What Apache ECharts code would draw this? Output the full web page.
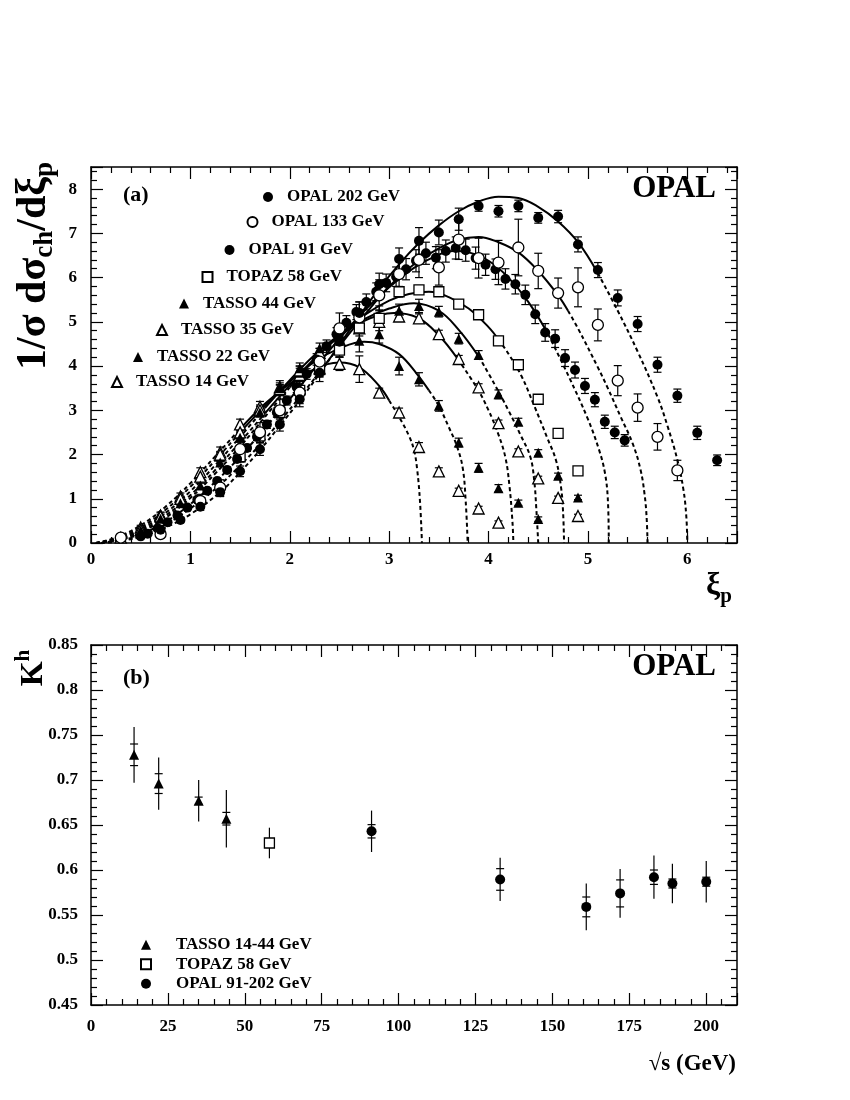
<!DOCTYPE html>
<html><head><meta charset="utf-8">
<script src="https://cdn.jsdelivr.net/npm/echarts@6.0.0/dist/echarts.min.js"></script>
<style>html,body{margin:0;padding:0;background:#fff}#c{width:850px;height:1100px}</style>
</head><body><div id="c"></div>
<script>
// ================= Panel (a): 1/sigma dsigma/dxi_p =================
const xiOPAL202 = [0.5,0.7,0.9,1.1,1.3,1.5,1.7,1.9,2.1,2.3,2.5,2.7,2.9,3.1,3.3,3.5,3.7,3.9,4.1,4.3,4.5,4.7,4.9,5.1,5.3,5.5,5.7,5.9,6.1,6.3];
const yOPAL202  = [0.15,0.3,0.52,0.82,1.15,1.62,2.12,2.68,3.25,3.85,4.55,5.2,5.85,6.42,6.83,7.02,7.32,7.62,7.50,7.62,7.35,7.38,6.75,6.17,5.54,4.95,4.03,3.33,2.49,1.87];
const eOPAL202  = [0.04,0.05,0.06,0.08,0.1,0.12,0.14,0.15,0.17,0.2,0.22,0.25,0.25,0.25,0.3,0.28,0.25,0.12,0.13,0.13,0.12,0.14,0.17,0.17,0.18,0.17,0.17,0.15,0.15,0.12];

const xiOPAL133 = [0.3,0.7,1.1,1.3,1.5,1.7,1.9,2.1,2.3,2.5,2.7,2.9,3.1,3.3,3.5,3.7,3.9,4.1,4.3,4.5,4.7,4.9,5.1,5.3,5.5,5.7,5.9];
const yOPAL133  = [0.12,0.2,0.95,1.25,2.12,2.5,3.0,3.4,4.1,4.85,5.1,5.6,6.08,6.4,6.23,6.86,6.44,6.34,6.68,6.15,5.65,5.78,4.93,3.67,3.06,2.40,1.64];
const eOPAL133  = [0.05,0.08,0.15,0.18,0.2,0.22,0.25,0.25,0.3,0.35,0.35,0.35,0.35,0.4,0.4,0.45,0.45,0.5,0.64,0.4,0.34,0.44,0.36,0.34,0.31,0.3,0.23];

const xiOPAL91 = [0.57,0.67,0.77,0.87,0.97,1.07,1.17,1.27,1.37,1.47,1.57,1.67,1.77,1.87,1.97,2.07,2.17,2.27,2.37,2.47,2.57,2.67,2.77,2.87,2.97,3.07,3.17,3.27,3.37,3.47,3.57,3.67,3.77,3.87,3.97,4.07,4.17,4.27,4.37,4.47,4.57,4.67,4.77,4.87,4.97,5.07,5.17,5.27,5.37];
const yOPAL91  = [0.21,0.33,0.47,0.62,0.8,0.98,1.18,1.4,1.65,1.9,2.15,2.4,2.68,2.95,3.22,3.52,3.82,4.15,4.45,4.72,4.98,5.22,5.45,5.68,5.88,6.02,6.19,6.38,6.55,6.45,6.6,6.67,6.62,6.44,6.29,6.19,5.97,5.85,5.61,5.17,4.76,4.62,4.18,3.91,3.55,3.24,2.74,2.50,2.32];
const eOPAL91  = [0.03,0.03,0.04,0.04,0.05,0.05,0.06,0.06,0.07,0.07,0.08,0.08,0.09,0.1,0.1,0.12,0.12,0.13,0.14,0.15,0.16,0.17,0.18,0.2,0.2,0.22,0.24,0.25,0.25,0.25,0.25,0.25,0.25,0.25,0.24,0.23,0.23,0.22,0.22,0.21,0.2,0.2,0.19,0.18,0.17,0.16,0.15,0.14,0.13];

const xiTOPAZ58 = [1.5,1.7,1.9,2.1,2.3,2.5,2.7,2.9,3.1,3.3,3.5,3.7,3.9,4.1,4.3,4.5,4.7,4.9];
const yTOPAZ58  = [1.95,2.42,2.95,3.45,3.92,4.36,4.86,5.08,5.68,5.72,5.68,5.40,5.16,4.57,4.03,3.25,2.48,1.63];
const eTOPAZ58  = [0.12,0.15,0.15,0.15,0.15,0.15,0.18,0.28,0.12,0.1,0.1,0.1,0.1,0.1,0.08,0.08,0.06,0.05];

const xiTASSO44 = [0.5,0.7,0.9,1.1,1.3,1.5,1.7,1.9,2.1,2.3,2.5,2.7,2.9,3.1,3.3,3.5,3.7,3.9,4.1,4.3,4.5,4.7,4.9];
const yTASSO44  = [0.28,0.55,0.9,1.3,1.82,2.38,2.95,3.5,3.95,4.4,4.75,4.95,5.12,5.25,5.36,5.23,4.62,4.25,3.36,2.74,2.04,1.52,1.03];
const eTASSO44  = [0.03,0.04,0.05,0.06,0.08,0.1,0.1,0.12,0.12,0.12,0.14,0.15,0.15,0.15,0.15,0.12,0.12,0.1,0.1,0.08,0.07,0.06,0.05];

const xiTASSO35 = [0.5,0.7,0.9,1.1,1.3,1.5,1.7,1.9,2.1,2.3,2.5,2.7,2.9,3.1,3.3,3.5,3.7,3.9,4.1,4.3,4.5,4.7,4.9];
const yTASSO35  = [0.3,0.6,1.0,1.5,2.0,2.5,3.0,3.48,3.9,4.3,4.6,4.85,5.0,5.12,5.08,4.72,4.16,3.52,2.71,2.07,1.46,1.02,0.61];
const eTASSO35  = [0.03,0.04,0.05,0.06,0.07,0.08,0.09,0.1,0.1,0.1,0.1,0.1,0.1,0.1,0.1,0.09,0.08,0.08,0.07,0.06,0.05,0.04,0.04];

const xiTASSO22 = [0.5,0.7,0.9,1.1,1.3,1.5,1.7,1.9,2.1,2.3,2.5,2.7,2.9,3.1,3.3,3.5,3.7,3.9,4.1,4.3,4.5];
const yTASSO22  = [0.32,0.65,1.0,1.45,1.95,2.45,3.0,3.45,3.85,4.15,4.4,4.57,4.72,4.0,3.70,3.10,2.27,1.70,1.24,0.91,0.54];
const eTASSO22  = [0.04,0.05,0.06,0.08,0.1,0.1,0.12,0.12,0.15,0.15,0.2,0.25,0.2,0.2,0.15,0.12,0.1,0.1,0.08,0.06,0.05];

const xiTASSO14 = [0.3,0.5,0.7,0.9,1.1,1.3,1.5,1.7,1.9,2.1,2.3,2.5,2.7,2.9,3.1,3.3,3.5,3.7,3.9,4.1];
const yTASSO14  = [0.12,0.35,0.62,1.05,1.6,2.05,2.68,3.08,3.52,3.8,3.95,4.05,3.93,3.40,2.95,2.17,1.62,1.18,0.78,0.46];
const eTASSO14  = [0.03,0.05,0.06,0.08,0.1,0.12,0.12,0.12,0.15,0.15,0.2,0.15,0.3,0.1,0.1,0.1,0.08,0.06,0.05,0.04];

// theory curves, with the xi range drawn solid
const curveXi14 = [0.05,0.25,0.5,0.75,1.0,1.25,1.5,1.75,2.0,2.25,2.5,2.7,2.9,3.0,3.1,3.2,3.25,3.28,3.31,3.33];
const curveY14  = [0,0.12,0.4,0.82,1.35,1.96,2.58,3.15,3.6,3.93,4.08,3.97,3.55,3.22,2.85,2.42,2.1,1.7,0.95,0];
const fit14 = [1.5, 3.0];
const curveXi22 = [0.05,0.25,0.5,0.75,1.0,1.25,1.5,1.75,2.0,2.25,2.5,2.75,2.9,3.1,3.28,3.4,3.5,3.6,3.68,3.74,3.77,3.79];
const curveY22  = [0,0.1,0.35,0.75,1.27,1.87,2.5,3.1,3.65,4.1,4.4,4.55,4.5,4.27,3.82,3.45,3.1,2.62,2.2,1.7,0.95,0];
const fit22 = [1.5, 3.4];
const curveXi35 = [0.05,0.25,0.5,0.75,1.0,1.25,1.5,1.75,2.0,2.25,2.5,2.75,2.9,3.05,3.28,3.49,3.69,3.89,4.0,4.1,4.17,4.21,4.24,4.25];
const curveY35  = [0,0.09,0.31,0.68,1.17,1.76,2.4,3.05,3.68,4.25,4.7,5.02,5.15,5.2,5.1,4.72,4.16,3.48,3.0,2.45,1.93,1.3,0.5,0];
const fit35 = [1.75, 3.69];
const curveXi44 = [0.05,0.25,0.5,0.75,1.0,1.25,1.5,1.75,2.0,2.25,2.5,2.75,3.0,3.25,3.5,3.7,3.9,4.06,4.2,4.32,4.42,4.46,4.48,4.5];
const curveY44  = [0,0.08,0.28,0.62,1.08,1.65,2.28,2.93,3.57,4.17,4.67,5.06,5.3,5.42,5.25,4.82,4.22,3.59,3.0,2.45,1.95,1.4,0.8,0];
const fit44 = [1.75, 3.9];
const curveXi58 = [0.05,0.25,0.5,0.75,1.0,1.25,1.5,1.75,2.0,2.25,2.5,2.75,3.0,3.2,3.4,3.6,3.8,4.0,4.1,4.2,4.33,4.46,4.59,4.68,4.73,4.75,4.76];
const curveY58  = [0,0.07,0.25,0.57,1.02,1.57,2.18,2.85,3.52,4.15,4.7,5.15,5.48,5.63,5.68,5.56,5.3,4.88,4.6,4.28,3.78,3.1,2.38,1.86,1.25,0.7,0];
const fit58 = [2.0, 4.1];
const curveXi91 = [0.05,0.25,0.5,0.75,1.0,1.25,1.5,1.75,2.0,2.25,2.5,2.75,3.0,3.25,3.5,3.65,3.8,4.0,4.2,4.4,4.6,4.81,5.0,5.11,5.17,5.2,5.21];
const curveY91  = [0,0.06,0.2,0.48,0.88,1.38,1.95,2.6,3.25,3.95,4.62,5.25,5.78,6.22,6.52,6.6,6.57,6.38,6.0,5.45,4.72,3.75,2.8,2.12,1.6,1.0,0];
const fit91 = [2.0, 4.6];
const curveXi133 = [0.1,0.25,0.5,0.75,1.0,1.25,1.5,1.75,2.0,2.25,2.5,2.75,3.0,3.25,3.5,3.7,3.9,4.1,4.3,4.5,4.7,4.8,4.9,5.1,5.2,5.33,5.45,5.53,5.57,5.59,5.6];
const curveY133  = [0,0.05,0.17,0.42,0.78,1.22,1.75,2.35,3.02,3.72,4.45,5.15,5.8,6.3,6.66,6.86,6.92,6.8,6.57,6.15,5.6,5.25,4.85,3.97,3.5,2.85,2.25,1.65,1.1,0.6,0];
const fit133 = [2.25, 4.8];
const curveXi202 = [0.1,0.25,0.5,0.75,1.0,1.3,1.5,1.7,1.9,2.1,2.3,2.5,2.7,2.9,3.1,3.3,3.5,3.7,3.9,4.1,4.3,4.5,4.7,4.9,5.1,5.3,5.5,5.7,5.8,5.9,5.96,5.99,6.0];
const curveY202  = [0,0.03,0.14,0.35,0.65,1.15,1.6,2.1,2.65,3.22,3.83,4.48,5.13,5.75,6.3,6.78,7.18,7.5,7.72,7.83,7.8,7.6,7.27,6.8,6.1,5.25,4.33,3.3,2.65,1.88,1.22,0.6,0];
const fit202 = [2.5, 5.1];

// ================= Panel (b): K^h vs sqrt(s) =================
const sqrtsTASSO = [14, 22, 35, 44];
const kTASSO     = [0.728, 0.696, 0.677, 0.657];
const statTASSO  = [0.012, 0.011, 0.004, 0.007];
const totTASSO   = [0.031, 0.029, 0.023, 0.032];
const sqrtsTOPAZ = [58];
const kTOPAZ     = [0.630];
const statTOPAZ  = [0.004];
const totTOPAZ   = [0.017];
const sqrtsOPAL  = [91.2, 133, 161, 172, 183, 189, 200];
const kOPAL      = [0.643, 0.5895, 0.559, 0.574, 0.592, 0.585, 0.587];
const statOPAL   = [0.0074, 0.012, 0.011, 0.015, 0.008, 0.005, 0.005];
const totOPAL    = [0.023, 0.024, 0.026, 0.027, 0.024, 0.022, 0.023];

// ================= build =================
const FONT = "'Liberation Serif','Times New Roman',serif";
const BLACK = '#000';
const zip2 = (xs, ys) => xs.map((x, i) => [x, ys[i]]);
const zip3 = (xs, ys, es) => xs.map((x, i) => [x, ys[i], es[i]]);
const zip4 = (xs, ys, a, b) => xs.map((x, i) => [x, ys[i], a[i], b[i]]);

const symStyle = {
  filledCircle: {symbol: 'circle', size: 10, itemStyle: {color: BLACK, opacity: 1}},
  openCircle:   {symbol: 'circle', size: 11, itemStyle: {color: '#fff', borderColor: BLACK, borderWidth: 1.3, opacity: 1}},
  openSquare:   {symbol: 'rect', size: 10, itemStyle: {color: '#fff', borderColor: BLACK, borderWidth: 1.3, opacity: 1}},
  filledTri:    {symbol: 'triangle', size: 10, itemStyle: {color: BLACK, opacity: 1}},
  openTri:      {symbol: 'triangle', size: 11, itemStyle: {color: '#fff', borderColor: BLACK, borderWidth: 1.3, opacity: 1}}
};

const setsA = [
  {name: 'OPAL 202 GeV', xs: xiOPAL202, ys: yOPAL202, es: eOPAL202, st: 'filledCircle'},
  {name: 'OPAL 133 GeV', xs: xiOPAL133, ys: yOPAL133, es: eOPAL133, st: 'openCircle'},
  {name: 'OPAL 91 GeV',  xs: xiOPAL91,  ys: yOPAL91,  es: eOPAL91,  st: 'filledCircle'},
  {name: 'TOPAZ 58 GeV', xs: xiTOPAZ58, ys: yTOPAZ58, es: eTOPAZ58, st: 'openSquare'},
  {name: 'TASSO 44 GeV', xs: xiTASSO44, ys: yTASSO44, es: eTASSO44, st: 'filledTri'},
  {name: 'TASSO 35 GeV', xs: xiTASSO35, ys: yTASSO35, es: eTASSO35, st: 'openTri'},
  {name: 'TASSO 22 GeV', xs: xiTASSO22, ys: yTASSO22, es: eTASSO22, st: 'filledTri'},
  {name: 'TASSO 14 GeV', xs: xiTASSO14, ys: yTASSO14, es: eTASSO14, st: 'openTri'}
];
// legend symbol centres (layout, px)
const legendPosA = [[268, 197], [251.5, 222], [229.5, 250], [206.5, 277], [184, 303.5], [161, 330], [138, 357], [116, 382]];

const curves = [
  [curveXi14, curveY14, fit14], [curveXi22, curveY22, fit22], [curveXi35, curveY35, fit35],
  [curveXi44, curveY44, fit44], [curveXi58, curveY58, fit58], [curveXi91, curveY91, fit91],
  [curveXi133, curveY133, fit133], [curveXi202, curveY202, fit202]
];

const series = [];
const lineBase = {type: 'line', xAxisIndex: 0, yAxisIndex: 0, symbol: 'none', showSymbol: false,
  smooth: 0.4, silent: true, z: 1, clip: true};
curves.forEach(([xs, ys, fit]) => {
  const pts = zip2(xs, ys);
  const low = pts.filter(p => p[0] <= fit[0]);
  const mid = pts.filter(p => p[0] >= fit[0] && p[0] <= fit[1]);
  const high = pts.filter(p => p[0] >= fit[1]);
  series.push(Object.assign({}, lineBase, {data: low, lineStyle: {color: BLACK, width: 2, type: [4, 3]}}));
  series.push(Object.assign({}, lineBase, {data: mid, lineStyle: {color: BLACK, width: 2, type: 'solid'}}));
  series.push(Object.assign({}, lineBase, {data: high, lineStyle: {color: BLACK, width: 2, type: [4, 3]}}));
});

function errA(data) {
  return {type: 'custom', xAxisIndex: 0, yAxisIndex: 0, z: 2, silent: true, data: data,
    encode: {x: 0, y: 1},
    renderItem: (params, api) => {
      const x = api.value(0), y = api.value(1), e = api.value(2);
      const a = api.coord([x, Math.max(0, y - e)]), b = api.coord([x, y + e]);
      const s = {stroke: BLACK, lineWidth: 1.2};
      return {type: 'group', children: [
        {type: 'line', shape: {x1: a[0], y1: a[1], x2: b[0], y2: b[1]}, style: s},
        {type: 'line', shape: {x1: a[0] - 4, y1: a[1], x2: a[0] + 4, y2: a[1]}, style: s},
        {type: 'line', shape: {x1: b[0] - 4, y1: b[1], x2: b[0] + 4, y2: b[1]}, style: s}
      ]};
    }};
}
function errB(data) {
  return {type: 'custom', xAxisIndex: 2, yAxisIndex: 2, z: 2, silent: true, data: data,
    encode: {x: 0, y: 1},
    renderItem: (params, api) => {
      const x = api.value(0), y = api.value(1), st = api.value(2), tot = api.value(3);
      const a = api.coord([x, y - tot]), b = api.coord([x, y + tot]);
      const c = api.coord([x, y - st]), d = api.coord([x, y + st]);
      const s = {stroke: BLACK, lineWidth: 1.2};
      return {type: 'group', children: [
        {type: 'line', shape: {x1: a[0], y1: a[1], x2: b[0], y2: b[1]}, style: s},
        {type: 'line', shape: {x1: c[0] - 4, y1: c[1], x2: c[0] + 4, y2: c[1]}, style: s},
        {type: 'line', shape: {x1: d[0] - 4, y1: d[1], x2: d[0] + 4, y2: d[1]}, style: s}
      ]};
    }};
}

setsA.slice().reverse().forEach(d => series.push(errA(zip3(d.xs, d.ys, d.es))));
setsA.slice().reverse().forEach(d => {
  const st = symStyle[d.st];
  series.push({type: 'scatter', name: d.name, xAxisIndex: 0, yAxisIndex: 0, z: 3,
    symbol: st.symbol, symbolSize: st.size, itemStyle: st.itemStyle, data: zip2(d.xs, d.ys)});
});

const setsB = [
  {name: 'TASSO 14-44 GeV', xs: sqrtsTASSO, ys: kTASSO, st: statTASSO, tot: totTASSO, sty: 'filledTri'},
  {name: 'TOPAZ 58 GeV ', xs: sqrtsTOPAZ, ys: kTOPAZ, st: statTOPAZ, tot: totTOPAZ, sty: 'openSquare'},
  {name: 'OPAL 91-202 GeV', xs: sqrtsOPAL, ys: kOPAL, st: statOPAL, tot: totOPAL, sty: 'filledCircle'}
];
setsB.forEach(d => series.push(errB(zip4(d.xs, d.ys, d.st, d.tot))));
setsB.forEach(d => {
  const st = symStyle[d.sty];
  series.push({type: 'scatter', name: d.name, xAxisIndex: 2, yAxisIndex: 2, z: 3,
    symbol: st.symbol, symbolSize: st.size, itemStyle: st.itemStyle, data: zip2(d.xs, d.ys)});
});

// axes
const lbl = {fontFamily: FONT, fontWeight: 'bold', fontSize: 17, color: BLACK};
function axis(grid, pos, min, max, interval, showLabel, margin, showMax) {
  return {type: 'value', gridIndex: grid, position: pos, min: min, max: max, interval: interval,
    axisLine: {show: true, onZero: false, lineStyle: {color: BLACK, width: 1.5}},
    axisTick: {show: true, inside: true, length: 12, lineStyle: {color: BLACK, width: 1.2}},
    minorTick: {show: true, splitNumber: 5, length: 6, lineStyle: {color: BLACK, width: 1.2}},
    splitLine: {show: false}, minorSplitLine: {show: false},
    axisLabel: Object.assign({show: showLabel, margin: margin, showMaxLabel: showMax, showMinLabel: true}, lbl)};
}

const legendText = {fontFamily: FONT, fontWeight: 'bold', fontSize: 17, color: BLACK, lineHeight: 20};
const legendBase = {orient: 'horizontal', padding: 0, itemWidth: 10, itemHeight: 10, itemGap: 0, selectedMode: false};
const legends = setsA.map((d, i) => Object.assign({}, legendBase, {
  data: [d.name], left: legendPosA[i][0] - 5, top: legendPosA[i][1] - 10,
  textStyle: Object.assign({}, legendText, {padding: [0, 0, 0, 9]})}));
legends.push(Object.assign({}, legendBase, {orient: 'vertical', data: setsB.map(d => d.name),
  left: 140, top: 935, itemGap: 0,
  textStyle: Object.assign({}, legendText, {lineHeight: 19.5, padding: [0, 0, 0, 20]})}));

const option = {
  animation: false,
  backgroundColor: '#fff',
  grid: [
    {left: 91, top: 167, width: 646, height: 376},
    {left: 91, top: 645, width: 646, height: 360}
  ],
  xAxis: [
    axis(0, 'bottom', 0, 6.5, 1, true, 8, false),
    axis(0, 'top', 0, 6.5, 1, false, 8, false),
    axis(1, 'bottom', 0, 210, 25, true, 13, false),
    axis(1, 'top', 0, 210, 25, false, 8, false)
  ],
  yAxis: [
    axis(0, 'left', 0, 8.5, 1, true, 14, false),
    axis(0, 'right', 0, 8.5, 1, false, 14, false),
    axis(1, 'left', 0.45, 0.85, 0.05, true, 13, true),
    axis(1, 'right', 0.45, 0.85, 0.05, false, 13, true)
  ],
  legend: legends,
  series: series,
  graphic: {elements: [
    {type: 'text', left: 123, top: 184, style: {text: '(a)', fill: BLACK, fontFamily: FONT, fontWeight: 'bold', fontSize: 22}},
    {type: 'text', left: 123, top: 667, style: {text: '(b)', fill: BLACK, fontFamily: FONT, fontWeight: 'bold', fontSize: 22}},
    {type: 'text', right: 850 - 716, top: 173, style: {text: 'OPAL', fill: BLACK, fontFamily: FONT, fontWeight: 'bold', fontSize: 31}},
    {type: 'text', right: 850 - 716, top: 651, style: {text: 'OPAL', fill: BLACK, fontFamily: FONT, fontWeight: 'bold', fontSize: 31}},
    {type: 'text', x: 34, y: 266, rotation: Math.PI / 2,
      style: {text: '{a|1/σ dσ}{b|ch}{a|/dξ}{b|p}', align: 'center', verticalAlign: 'middle',
        rich: {a: {fill: BLACK, fontFamily: FONT, fontWeight: 'bold', fontSize: 42, lineHeight: 50, verticalAlign: 'middle'},
               b: {fill: BLACK, fontFamily: FONT, fontWeight: 'bold', fontSize: 27, lineHeight: 28, verticalAlign: 'bottom'}}}},
    {type: 'text', x: 34, y: 668, rotation: Math.PI / 2,
      style: {text: '{a|K}{b|h}', align: 'center', verticalAlign: 'middle',
        rich: {a: {fill: BLACK, fontFamily: FONT, fontWeight: 'bold', fontSize: 32, lineHeight: 42, verticalAlign: 'middle'},
               b: {fill: BLACK, fontFamily: FONT, fontWeight: 'bold', fontSize: 21, lineHeight: 22, verticalAlign: 'top'}}}},
    {type: 'text', x: 706, y: 586,
      style: {text: '{a|ξ}{b|p}', align: 'left', verticalAlign: 'middle',
        rich: {a: {fill: BLACK, fontFamily: FONT, fontWeight: 'bold', fontSize: 32, lineHeight: 42, verticalAlign: 'middle'},
               b: {fill: BLACK, fontFamily: FONT, fontWeight: 'bold', fontSize: 21, lineHeight: 22, verticalAlign: 'bottom'}}}},
    {type: 'text', x: 736, y: 1064,
      style: {text: '√s (GeV)', align: 'right', verticalAlign: 'middle', fill: BLACK, fontFamily: FONT, fontWeight: 'bold', fontSize: 23}}
  ]}
};

const chart = echarts.init(document.getElementById('c'), null, {renderer: 'canvas'});
chart.setOption(option);
</script></body></html>
